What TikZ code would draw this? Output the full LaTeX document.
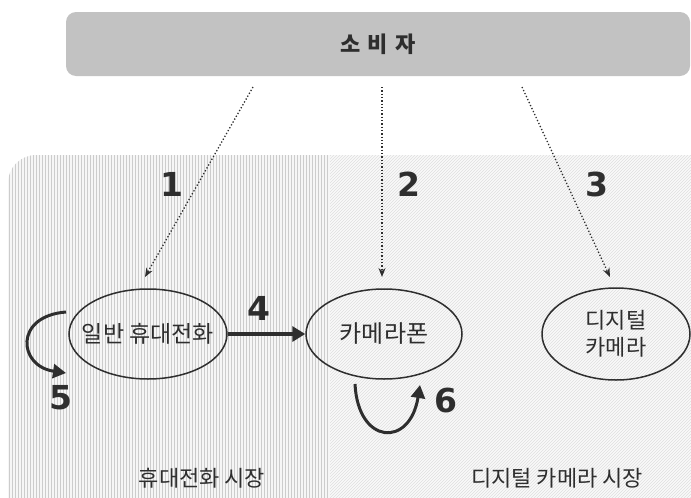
\documentclass[tikz,border=0pt]{standalone}
\usepackage{fontspec}
\setmainfont{Noto Sans CJK KR}
\newfontfamily\numfont{DejaVu Sans}
\usetikzlibrary{arrows.meta,patterns,shapes.geometric}
\definecolor{ink}{HTML}{2E2E2E}
\definecolor{barfill}{HTML}{C2C2C2}
\begin{document}
\begin{tikzpicture}[x=1pt,y=-1pt,
  bubble/.style={ellipse,draw=ink,line width=1.5pt,minimum width=158pt,minimum height=90pt,inner sep=0pt,text=ink,align=center},
  dotarrow/.style={draw=ink,line width=1.3pt,dotted,-{Stealth[length=9pt,width=7pt]}},
  bigarrow/.style={draw=ink,line width=4pt,-{Triangle[length=13pt,width=15pt]}},
  looparrow/.style={draw=ink,line width=3pt,-{Triangle[length=13pt,width=14pt]}},
  numlabel/.style={font=\numfont\bfseries\fontsize{33}{36}\selectfont,text=ink},
  marketlabel/.style={font=\fontsize{22}{24}\selectfont,text=ink}]
\useasboundingbox (0,0) rectangle (691,498);
% background regions
\begin{scope}
  \clip[rounded corners=28pt] (8,155) rectangle (740,560);
  \fill[gray!7] (8,155) rectangle (330,560);
  \fill[pattern=vertical lines,pattern color=gray!40] (8,155) rectangle (330,560);
  \fill[gray!4] (330,155) rectangle (740,560);
  \fill[pattern=north east lines,pattern color=gray!25] (330,155) rectangle (740,560);
\end{scope}
% consumer bar
\node[draw=none,fill=barfill,rounded corners=10pt,minimum width=624pt,minimum height=64pt,
      font=\bfseries\fontsize{22}{24}\selectfont,text=ink] (cons) at (378,44) {소\,\,비\,\,자};
% market nodes
\node[bubble,font=\fontsize{23}{26}\selectfont] (a) at (148,334) {\makebox[0pt]{일반 휴대전화}};
\node[bubble,minimum width=156pt,font=\fontsize{24}{26}\selectfont] (b) at (384,334) {\makebox[0pt]{카메라폰}};
\node[bubble,minimum width=148pt,minimum height=92pt,font=\fontsize{22}{27}\selectfont] (c) at (616,334) {디지털\\카메라};
% dotted arrows from consumer
\coordinate (s1) at (253,87);
\coordinate (s2) at (382,87);
\coordinate (s3) at (522,87);
\coordinate (e1) at (145,277);
\coordinate (e2) at (382,277);
\coordinate (e3) at (610,277);
\draw[dotarrow] (s1) -- (e1);
\draw[dotarrow] (s2) -- (e2);
\draw[dotarrow] (s3) -- (e3);
\node[numlabel] (n1) at (172,184) {1};
\node[numlabel] (n2) at (409,184) {2};
\node[numlabel] (n3) at (597,184) {3};
% arrow 4
\draw[bigarrow] (a.east) -- (b.west);
\node[numlabel] (n4) at (259,308) {4};
% loop 5
\coordinate (l5a) at (66,312);
\coordinate (l5b) at (66,373);
\draw[looparrow] (l5a) .. controls (14,316) and (18,366) .. (l5b);
\node[numlabel] (n5) at (61,398) {5};
% loop 6
\coordinate (l6a) at (355,384);
\coordinate (l6b) at (420,385);
\draw[looparrow] (l6a) .. controls (358,445) and (410,448) .. (l6b);
\node[numlabel] (n6) at (446,400) {6};
% market labels
\node[marketlabel] (m1) at (202,478) {휴대전화 시장};
\node[marketlabel] (m2) at (557,478) {디지털 카메라 시장};
\end{tikzpicture}
\end{document}
